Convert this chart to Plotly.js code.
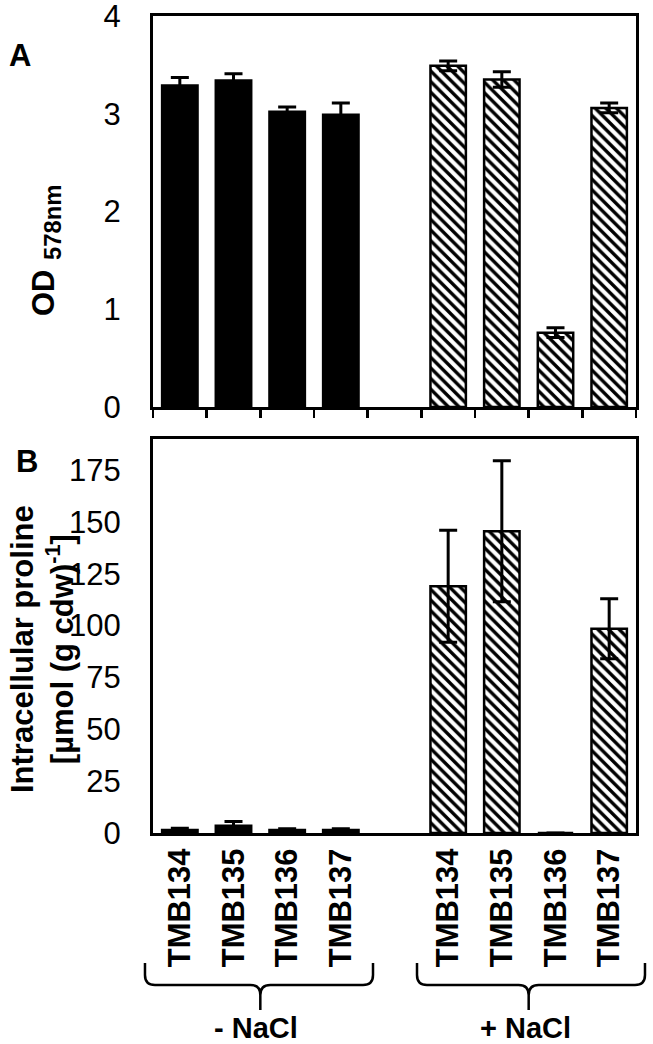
<!DOCTYPE html>
<html>
<head>
<meta charset="utf-8">
<script src="https://cdn.plot.ly/plotly-3.0.1.min.js"></script>
<style>html,body{margin:0;padding:0;background:#fff;}#chart{width:653px;height:1044px;}</style>
</head>
<body>
<div id="chart"></div>
<script>
// ---- data ----
const strains = ['TMB134', 'TMB135', 'TMB136', 'TMB137'];
const groups = ['- NaCl', '+ NaCl'];
const odMinus = [3.29, 3.34, 3.02, 2.99];
const odMinusErr = [0.08, 0.07, 0.05, 0.12];
const odPlus = [3.49, 3.35, 0.76, 3.06];
const odPlusErr = [0.05, 0.08, 0.05, 0.05];
const proMinus = [1.5, 3.5, 1.4, 1.5];
const proMinusErr = [0.8, 2.0, 0.6, 0.6];
const proPlus = [119, 145.5, 0, 98.5];
const proPlusErr = [27, 34, 0, 14.5];

// positions: 4 slots, a gap slot, 4 slots
const xMinus = strains.map((s, i) => i);
const xPlus = strains.map((s, i) => i + strains.length + 1);
const nSlots = strains.length * 2 + 1;
const boundaries = Array.from({length: nSlots + 1}, (_, i) => i - 0.5);
const odRange = [0, 4];
const proRange = [0, 190];

const FONT = 'Liberation Sans, Arial, sans-serif';
const pattern = {shape: '\\', size: 7.5, solidity: 0.45, fgcolor: 'black', bgcolor: 'white', fillmode: 'replace'};
const errStyle = {type: 'data', visible: true, color: 'black', thickness: 3, width: 9};
const barLine = {color: 'black', width: 2.5};

function barTrace(x, y, err, xa, ya, hatched, name) {
  return {
    type: 'bar', x: x, y: y, xaxis: xa, yaxis: ya, name: name, width: 0.66,
    error_y: Object.assign({array: err}, errStyle),
    marker: hatched ? {color: 'white', line: barLine, pattern: pattern} : {color: 'black', line: barLine},
    showlegend: false, hoverinfo: 'x+y'
  };
}

const traces = [
  barTrace(xMinus, odMinus, odMinusErr, 'x', 'y', false, '- NaCl'),
  barTrace(xPlus, odPlus, odPlusErr, 'x', 'y', true, '+ NaCl'),
  barTrace(xMinus, proMinus, proMinusErr, 'x2', 'y2', false, '- NaCl'),
  barTrace(xPlus, proPlus, proPlusErr, 'x2', 'y2', true, '+ NaCl')
];

// geometry (pixels) for decorations
const W = 653, H = 1044, ML = 153, MR = 17, MT = 16, MB = 211;
const PW = W - ML - MR, PH = H - MT - MB;
const px2x = p => (p - ML) / PW;
const py2y = p => (H - MB - p) / PH;
const slotPx = PW / nSlots;
const dataPx = x => ML + (x + 0.5) * slotPx;

function brace(L, R, C, top, mid, bot) {
  const r = 10;
  const P = (x, y) => px2x(x).toFixed(4) + ',' + py2y(y).toFixed(4);
  return 'M' + P(L, top) + ' L' + P(L, mid - r) + ' Q' + P(L, mid) + ' ' + P(L + r, mid) +
    ' L' + P(C - r, mid) + ' Q' + P(C, mid) + ' ' + P(C, mid + r) + ' L' + P(C, bot) +
    ' M' + P(R, top) + ' L' + P(R, mid - r) + ' Q' + P(R, mid) + ' ' + P(R - r, mid) +
    ' L' + P(C + r, mid) + ' Q' + P(C, mid) + ' ' + P(C, mid + r);
}
const cMinus = dataPx((xMinus[0] + xMinus[3]) / 2);
const cPlus = dataPx((xPlus[0] + xPlus[3]) / 2);

const axLine = {showline: true, linecolor: 'black', linewidth: 3, mirror: true, zeroline: false, showgrid: false};
const tickFont = {family: FONT, size: 31, color: 'black'};
// label axes: long transparent ticks push labels away from the axis line
const labelTicks = {ticks: 'outside', ticklen: 23, tickwidth: 1, tickcolor: 'rgba(0,0,0,0)',
  tickfont: tickFont, ticklabeloverflow: 'allow'};
// tick-only overlay axes: the visible short ticks
const tickOnly = {ticks: 'outside', ticklen: 8, tickwidth: 2.5, tickcolor: 'black', showticklabels: false,
  showline: false, showgrid: false, zeroline: false};

const layout = {
  width: W, height: H,
  margin: {l: ML, r: MR, t: MT, b: MB},
  paper_bgcolor: 'white', plot_bgcolor: 'white',
  font: {family: FONT, color: 'black'},
  bargap: 0,
  xaxis: Object.assign({}, axLine, {
    domain: [0, 1], anchor: 'y', range: [-0.5, nSlots - 0.5], tickmode: 'array', tickvals: boundaries,
    ticks: 'outside', ticklen: 8, tickwidth: 2.5, tickcolor: 'black', showticklabels: false
  }),
  yaxis: Object.assign({}, axLine, labelTicks, {
    domain: [py2y(407), 1], anchor: 'x', range: odRange, dtick: 1, tick0: 0
  }),
  yaxis3: Object.assign({}, tickOnly, {
    overlaying: 'y', anchor: 'x', side: 'left', range: odRange, dtick: 1, tick0: 0,
    minor: {dtick: 0.5, ticks: 'outside', ticklen: 8, tickwidth: 2.5, tickcolor: 'black', showgrid: false}
  }),
  xaxis2: Object.assign({}, axLine, {
    domain: [0, 1], anchor: 'y2', range: [-0.5, nSlots - 0.5], tickmode: 'array',
    tickvals: xMinus.concat(xPlus), ticktext: strains.concat(strains), tickangle: -90, ticks: '',
    tickfont: {family: FONT, size: 31, color: 'black', weight: 'bold'}
  }),
  yaxis2: Object.assign({}, axLine, labelTicks, {
    domain: [0, py2y(439)], anchor: 'x2', range: proRange, dtick: 25, tick0: 0
  }),
  yaxis4: Object.assign({}, tickOnly, {
    overlaying: 'y2', anchor: 'x2', side: 'left', range: proRange, dtick: 25, tick0: 0
  }),
  annotations: [
    {text: '<b>A</b>', xref: 'paper', yref: 'paper', x: px2x(20), y: py2y(56), showarrow: false,
     font: {size: 31}, xanchor: 'center', yanchor: 'middle'},
    {text: '<b>B</b>', xref: 'paper', yref: 'paper', x: px2x(27), y: py2y(461), showarrow: false,
     font: {size: 31}, xanchor: 'center', yanchor: 'middle'},
    {text: '<b><span style="font-size:31px">OD</span> <sub>578nm</sub></b>', xref: 'paper', yref: 'paper',
     x: px2x(44), y: py2y(251), showarrow: false, textangle: -90, font: {size: 34},
     xanchor: 'center', yanchor: 'middle'},
    {text: '<b>Intracellular proline<br>[µmol (g cdw)<sup>-1</sup>]</b>', xref: 'paper', yref: 'paper',
     x: px2x(42), y: py2y(649), showarrow: false, textangle: -90, font: {size: 31},
     xanchor: 'center', yanchor: 'middle'},
    {text: '<b>' + groups[0] + '</b>', xref: 'paper', yref: 'paper', x: px2x(cMinus - 4), y: py2y(1028),
     showarrow: false, font: {size: 29}, xanchor: 'center', yanchor: 'middle'},
    {text: '<b>' + groups[1] + '</b>', xref: 'paper', yref: 'paper', x: px2x(cPlus - 3), y: py2y(1028),
     showarrow: false, font: {size: 29}, xanchor: 'center', yanchor: 'middle'}
  ],
  shapes: [
    {type: 'path', xref: 'paper', yref: 'paper', path: brace(145, 373, cMinus, 963, 985, 1010),
     line: {color: 'black', width: 2.5}},
    {type: 'path', xref: 'paper', yref: 'paper', path: brace(417, 645, cPlus, 963, 985, 1010),
     line: {color: 'black', width: 2.5}}
  ]
};

Plotly.newPlot('chart', traces, layout, {displayModeBar: false, staticPlot: true});
</script>
</body>
</html>
